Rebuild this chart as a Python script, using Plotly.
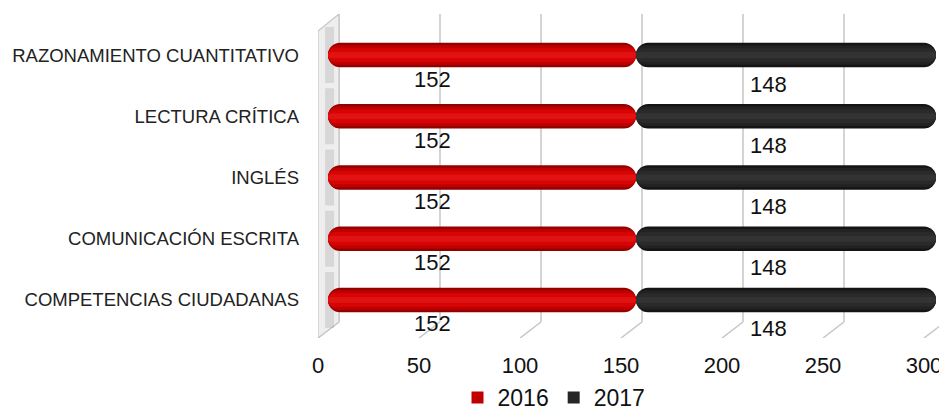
import plotly.graph_objects as go

# ---------------- data ----------------
categories = [
    "RAZONAMIENTO CUANTITATIVO",
    "LECTURA CRÍTICA",
    "INGLÉS",
    "COMUNICACIÓN ESCRITA",
    "COMPETENCIAS CIUDADANAS",
]
series_names = ["2016", "2017"]
values_2016 = [152, 152, 152, 152, 152]
values_2017 = [148, 148, 148, 148, 148]
tick_values = [0, 50, 100, 150, 200, 250, 300]

# ---------------- geometry / style ----------------
W, H = 939, 414
FONT = "Liberation Sans, Arial, sans-serif"
PX_PER_UNIT = 101 / 50
BAR_X0, BAR_X1 = 328, 936          # value 0 / 300 of the bars
FRONT_X0 = 318                     # front floor axis origin
BACK_X0 = 339                      # back wall origin
FLOOR_FRONT_Y, FLOOR_BACK_Y = 338, 322
WALL_TOP_BACK, WALL_TOP_FRONT = 14, 31
CAT_TOP, CAT_BOTTOM = 24.4, 330.6
GRID = "#c6c6c6"


def fx(px):
    return px / W


def fy(px):
    return (H - px) / H


depth = (BACK_X0 - FRONT_X0) / PX_PER_UNIT

fig = go.Figure()

# back-wall gridlines (x / y) from the tick values
gx, gy = [], []
for t in tick_values:
    gx += [t, t, None]
    gy += [0, 1, None]
fig.add_trace(go.Scatter(
    x=gx, y=gy, xaxis="x", yaxis="y", mode="lines",
    line=dict(color=GRID, width=1.5), hoverinfo="skip", showlegend=False))

# wall (x2 / y3)
wall_h = FLOOR_FRONT_Y - WALL_TOP_BACK
yb = (FLOOR_FRONT_Y - FLOOR_BACK_Y) / wall_h
ytf = (FLOOR_FRONT_Y - WALL_TOP_FRONT) / wall_h
fig.add_trace(go.Scatter(
    x=[0, depth, depth, 0, 0], y=[0, yb, 1, ytf, 0],
    xaxis="x2", yaxis="y3", mode="lines", fill="toself",
    fillcolor="#eeeeee", line=dict(color=GRID, width=1.2),
    hoverinfo="skip", showlegend=False))

# soft shadows on the wall behind bar starts (x2 / y4)
fig.add_trace(go.Scatter(
    x=[depth * 0.55] * len(categories), y=categories,
    xaxis="x2", yaxis="y4", mode="markers",
    marker=dict(symbol="line-ns", size=40, line=dict(width=9, color="rgba(150,150,150,0.26)")),
    hoverinfo="skip", showlegend=False))

# floor diagonals (x2 / y2)
dx, dy = [], []
for t in tick_values:
    dx += [t, t + depth, None]
    dy += [0, 1, None]
fig.add_trace(go.Scatter(
    x=dx, y=dy, xaxis="x2", yaxis="y2", mode="lines",
    line=dict(color=GRID, width=1.5), hoverinfo="skip", showlegend=False))

# bars (x3 / y4), cylinder look built from layered pills
BAR_W = 0.40
layers = {
    "2016": [(1.0, "#930000"), (0.8, "#c00000"), (0.55, "#d60404"), (0.25, "#e01212")],
    "2017": [(1.0, "#141414"), (0.8, "#222222"), (0.55, "#2a2a2a"), (0.25, "#333333")],
}
legend_color = {"2016": "#c00000", "2017": "#262626"}
series_vals = {"2016": values_2016, "2017": values_2017}
starts = {"2016": [0] * len(categories), "2017": values_2016}

for name in series_names:
    vals = series_vals[name]
    st = starts[name]
    for wf, col in layers[name]:
        fig.add_trace(go.Bar(
            y=categories, x=vals, base=st,
            orientation="h", xaxis="x3", yaxis="y4",
            width=BAR_W * wf,
            marker=dict(color=col, cornerradius="50%", line=dict(width=0)),
            name=name, legendgroup=name,
            showlegend=False, hoverinfo="skip"))
    # legend entry
    fig.add_trace(go.Bar(
        y=[None], x=[None], orientation="h", xaxis="x3", yaxis="y4",
        marker=dict(color=legend_color[name], line=dict(width=0)),
        name=name, legendgroup=name, showlegend=True))

# data labels
LABEL_FRAC = {"2016": 0.34, "2017": 0.44}
LABEL_DY = {"2016": 24, "2017": 29}
for name in series_names:
    for c, s, v in zip(categories, starts[name], series_vals[name]):
        fig.add_annotation(
            x=s + v * LABEL_FRAC[name], y=c, xref="x3", yref="y4",
            text=str(v), showarrow=False, yshift=-LABEL_DY[name],
            font=dict(family=FONT, size=22, color="#111111"))

fig.update_layout(
    width=W, height=H, autosize=False,
    margin=dict(l=0, r=0, t=0, b=0, autoexpand=False),
    paper_bgcolor="white", plot_bgcolor="rgba(0,0,0,0)",
    font=dict(family=FONT, color="#111111"),
    barmode="overlay",
    showlegend=True,
    legend=dict(orientation="h", x=0.59, xanchor="center",
                y=-0.012, yanchor="bottom",
                font=dict(size=23, family=FONT, color="#111111"),
                itemwidth=30, bgcolor="rgba(0,0,0,0)", traceorder="normal"),
    # back wall axis
    xaxis=dict(domain=[fx(BACK_X0), 1], range=[0, (W - BACK_X0) / PX_PER_UNIT],
               anchor="y", visible=False, fixedrange=True),
    yaxis=dict(domain=[fy(FLOOR_BACK_Y), fy(WALL_TOP_BACK)], range=[0, 1],
               anchor="x", visible=False, fixedrange=True),
    # front floor axis with tick labels
    xaxis2=dict(domain=[fx(FRONT_X0), 1], range=[0, (W - FRONT_X0) / PX_PER_UNIT],
                anchor="y2", tickvals=tick_values, showgrid=False, showline=False,
                zeroline=False, ticks="", ticklabelstandoff=12,
                ticklabeloverflow="allow", automargin=False,
                tickfont=dict(size=22, family=FONT, color="#111111"), fixedrange=True),
    yaxis2=dict(domain=[fy(FLOOR_FRONT_Y), fy(FLOOR_BACK_Y)], range=[0, 1],
                anchor="x2", visible=False, fixedrange=True),
    yaxis3=dict(domain=[fy(FLOOR_FRONT_Y), fy(WALL_TOP_BACK)], range=[0, 1],
                anchor="x2", visible=False, fixedrange=True),
    # bars axis
    xaxis3=dict(domain=[fx(BAR_X0), fx(BAR_X1)], range=[0, 300], anchor="y4",
                visible=False, fixedrange=True),
    yaxis4=dict(domain=[fy(CAT_BOTTOM), fy(CAT_TOP)], range=[-0.5, len(categories) - 0.5],
                anchor="x3", type="category", categoryorder="array",
                categoryarray=list(reversed(categories)),
                showgrid=False, showline=False, zeroline=False, ticks="",
                ticklabelstandoff=28, automargin=False,
                tickfont=dict(size=18.5, family=FONT, color="#222222"), fixedrange=True),
)

fig.write_html("out.html", config={"displayModeBar": False},
               post_script="document.body.style.margin='0px';")
